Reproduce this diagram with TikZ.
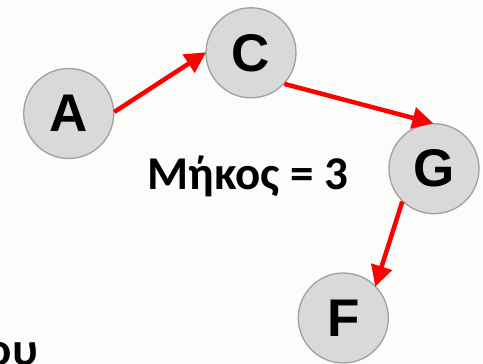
\documentclass[tikz,border=0pt]{standalone}
\usepackage{fontspec}
\setmainfont{Liberation Sans}
\newfontfamily\carlitofont{Carlito}
\usetikzlibrary{arrows.meta}
\definecolor{bg}{HTML}{FCFCFA}
\definecolor{nodefill}{HTML}{D9D9D9}
\definecolor{nodeline}{HTML}{A0A0A0}
\newcommand{\lowered}[1]{\raisebox{-8.5pt}{#1}}
\begin{document}
\begin{tikzpicture}[x=1pt,y=-1pt,
  vert/.style={circle,draw=nodeline,line width=1.3pt,fill=nodefill,minimum size=90pt,inner sep=0pt,
    font=\fontsize{53}{53}\selectfont\bfseries},
  edge/.style={draw=red,line width=4.5pt,-{Triangle[length=21pt,width=21pt]},shorten >=-1pt}]
\fill[bg] (0,0) rectangle (483,364);
\useasboundingbox (0,0) rectangle (483,364);
\node[vert] (A) at (68.7,113.5) {\lowered{A}};
\node[vert] (C) at (251,52.8) {\lowered{C}};
\node[vert] (G) at (434,168.7) {\lowered{G}};
\node[vert] (F) at (343.3,318) {\lowered{F}};
\draw[edge] (A.2) -- (C.180);
\draw[edge] (C.-43) -- (G.92);
\draw[edge] (G.226) -- (F.45);
\node[font=\carlitofont\bfseries\fontsize{47}{47}\selectfont,anchor=base] (len) at (248,189) {Μήκος = 3};
\node[font=\carlitofont\bfseries\fontsize{47}{47}\selectfont,anchor=base east,inner sep=0pt] (ou) at (38,365) {ου};
\end{tikzpicture}
\end{document}
